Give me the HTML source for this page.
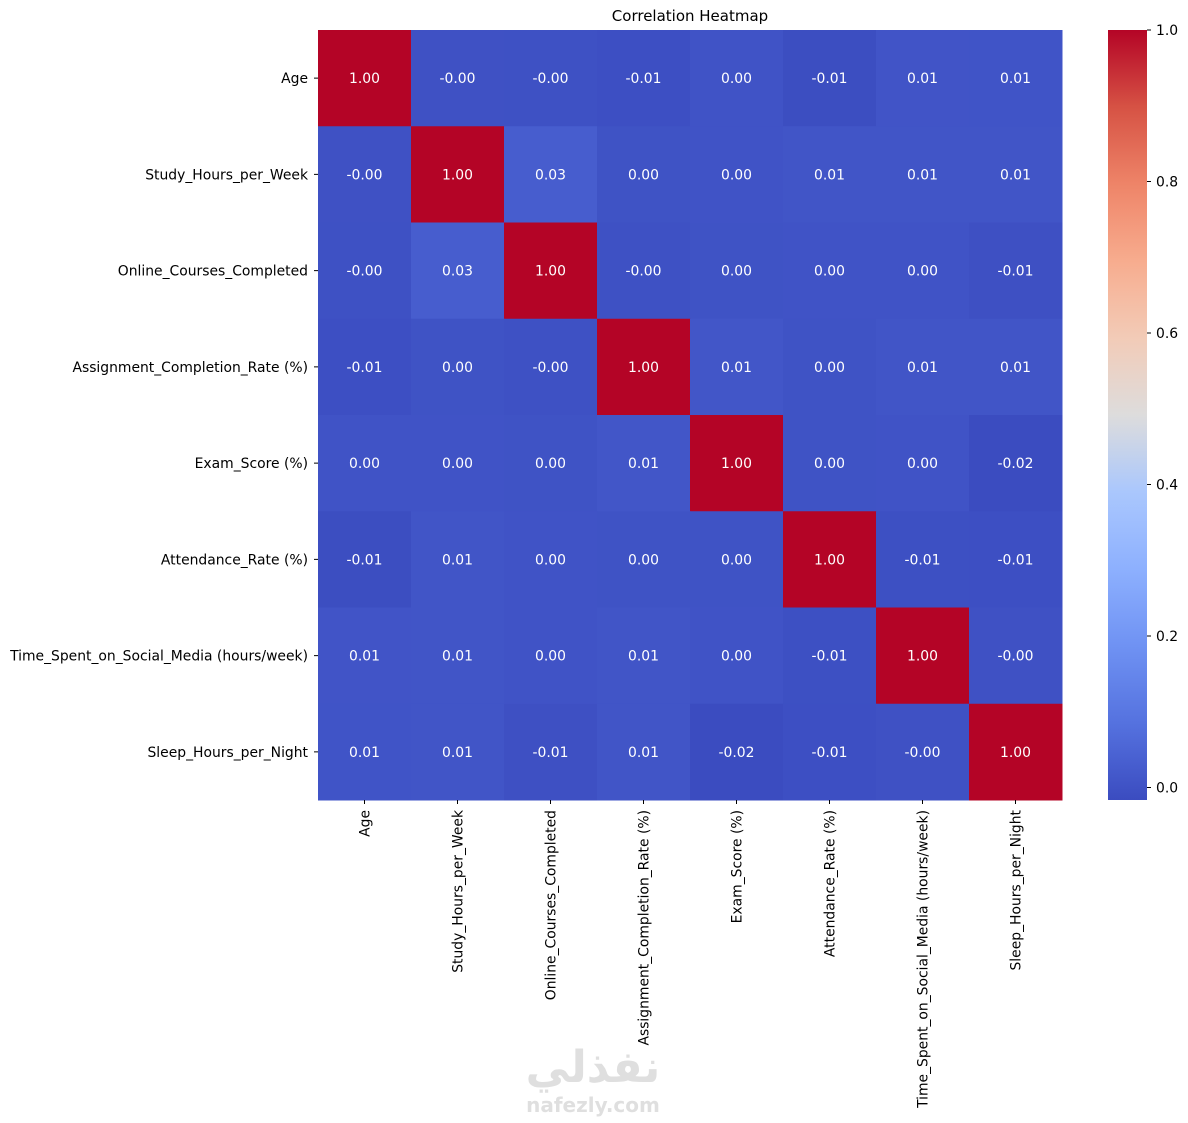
<!DOCTYPE html>
<html><head><meta charset="utf-8"><style>
html,body{margin:0;padding:0;background:#fff;}
svg text{font-family:"DejaVu Sans","Liberation Sans",sans-serif;}
</style></head><body>
<svg id="chart" width="1188" height="1118" xmlns="http://www.w3.org/2000/svg">
<text x="690" y="21" text-anchor="middle" font-size="15" fill="#000">Correlation Heatmap</text>
<g id="cells"></g><g id="ylabels"></g><g id="xlabels"></g>
<defs><linearGradient id="cbgrad" x1="0" y1="1" x2="0" y2="0"></linearGradient></defs>
<rect x="1108" y="30" width="39" height="770" fill="url(#cbgrad)"/>
<g id="cbticks"></g>
<g fill="#d8d8d8" opacity="0.8">
<text x="593" y="1082" text-anchor="middle" font-size="44" font-weight="bold" font-family="'DejaVu Sans',sans-serif">نفذلي</text>
<text x="593" y="1112" text-anchor="middle" font-size="20" font-weight="bold">nafezly.com</text>
</g>
</svg>
<script>
const labels=["Age","Study_Hours_per_Week","Online_Courses_Completed","Assignment_Completion_Rate (%)","Exam_Score (%)","Attendance_Rate (%)","Time_Spent_on_Social_Media (hours/week)","Sleep_Hours_per_Night"];
const matrix=[
[1.00,-0.002,-0.003,-0.008,0.002,-0.012,0.006,0.005],
[-0.002,1.00,0.030,0.001,0.002,0.008,0.008,0.007],
[-0.003,0.030,1.00,-0.003,0.001,0.002,0.003,-0.006],
[-0.008,0.001,-0.003,1.00,0.010,0.001,0.008,0.007],
[0.002,0.002,0.001,0.010,1.00,0.001,0.002,-0.0165],
[-0.012,0.008,0.002,0.001,0.001,1.00,-0.007,-0.008],
[0.006,0.008,0.003,0.008,0.002,-0.007,1.00,-0.002],
[0.005,0.007,-0.006,0.007,-0.0165,-0.008,-0.002,1.00]];
const cbTicks=[0,0.2,0.4,0.6,0.8,1.0];
const vmin=-0.0165,vmax=1.0;
const X0=318,Y0=30,W=744,H=770,n=labels.length,cw=W/n,ch=H/n;
const FS=13.9;
const stops=[[59,76,192],[85,114,223],[111,146,243],[141,176,254],[170,199,253],[221,220,220],[242,203,183],[247,172,142],[238,132,104],[214,82,68],[180,4,38]];
function color(v){let t=(v-vmin)/(vmax-vmin);t=Math.max(0,Math.min(1,t));const p=t*10,i=Math.min(9,Math.floor(p)),f=p-i;const a=stops[i],b=stops[i+1];return `rgb(${a.map((c,k)=>Math.round(c+(b[k]-c)*f)).join(',')})`;}
function xs(j){return X0+j*cw;}function ys(i){return Y0+i*ch;}
function cy(v){return Y0+H-(v-vmin)/(vmax-vmin)*H;}
const NS="http://www.w3.org/2000/svg";
function mk(t,a,p){const e=document.createElementNS(NS,t);for(const k in a)e.setAttribute(k,a[k]);p.appendChild(e);return e;}
const cells=document.getElementById('cells');
matrix.forEach((row,i)=>row.forEach((v,j)=>{
 const r=mk('rect',{x:xs(j),y:ys(i),width:cw+0.5,height:ch+0.5,fill:color(v)},cells);
 
 
 const t=mk('text',{x:xs(j)+cw/2,y:ys(i)+ch/2+5,'text-anchor':'middle','font-size':FS,fill:'#fff'},cells);
 t.textContent=v.toFixed(2);
 
 
}));
const yl=document.getElementById('ylabels'),xl=document.getElementById('xlabels');
labels.forEach((l,i)=>{
 mk('line',{x1:X0-4,x2:X0,y1:ys(i)+ch/2,y2:ys(i)+ch/2,stroke:'#000'},yl);
 const t=mk('text',{x:X0-10,y:ys(i)+ch/2+5,'text-anchor':'end','font-size':FS,fill:'#000'},yl);
 t.textContent=l;
 
 
 const cx=xs(i)+cw/2;
 mk('line',{x1:cx,x2:cx,y1:Y0+H,y2:Y0+H+4,stroke:'#000'},xl);
 const u=mk('text',{x:cx+5,y:Y0+H+10,'text-anchor':'end','font-size':FS,fill:'#000',transform:`rotate(-90 ${cx+5} ${Y0+H+10})`},xl);
 u.textContent=l;
 
 
});
const g=document.getElementById('cbgrad');
for(let k=0;k<=20;k++){const v=vmin+(vmax-vmin)*k/20;mk('stop',{offset:(k/20),'stop-color':color(v)},g);}
const cbt=document.getElementById('cbticks');
cbTicks.forEach(v=>{const y=cy(v);
 mk('line',{x1:1147,x2:1151,y1:y,y2:y,stroke:'#000'},cbt);
 const t=mk('text',{x:1156,y:y+5,'font-size':FS,fill:'#000'},cbt);
 t.textContent=v.toFixed(1);
 
 
});
</script>
</body></html>
